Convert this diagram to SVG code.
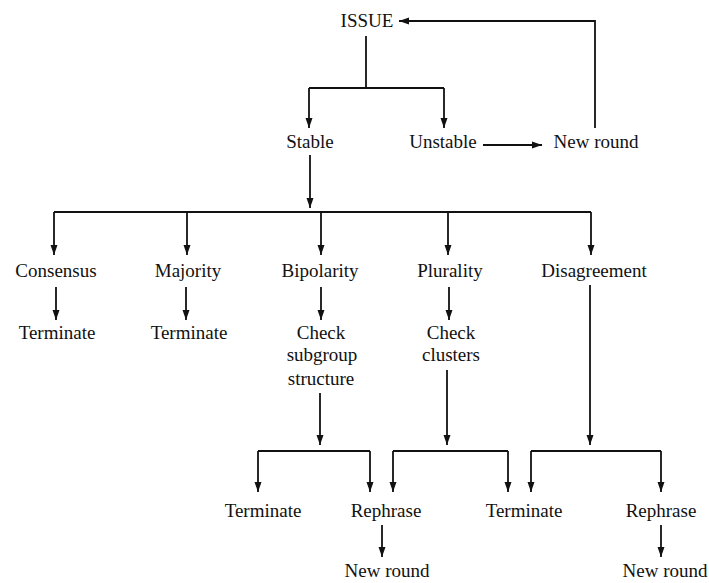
<svg xmlns="http://www.w3.org/2000/svg" width="709" height="583" viewBox="0 0 709 583">
<style>
text{font-family:"Liberation Serif","Times New Roman",serif;font-size:19px;fill:#111;text-anchor:middle}
.c path{fill:none;stroke:#111;stroke-width:1.8}
.a{marker-end:url(#ah)}
</style>
<defs>
<marker id="ah" markerUnits="userSpaceOnUse" markerWidth="10" markerHeight="8" refX="10" refY="4" orient="auto">
<path d="M0,0.5 L10,4 L0,7.5 z" fill="#111"/>
</marker>
</defs>
<rect width="709" height="583" fill="#fff"/>
<g class="c" id="connectors">
<path class="a" d="M595,128 V21 H399"/>
<path d="M366,36 V88 M309,88 H444"/>
<path class="a" d="M309,88 V128"/>
<path class="a" d="M444,88 V128"/>
<path class="a" d="M483,145 H542"/>
<path class="a" d="M310,155 V208"/>
<path d="M54,212 H591"/>
<path class="a" d="M54,212 V255"/>
<path class="a" d="M187,212 V255"/>
<path class="a" d="M321,212 V255"/>
<path class="a" d="M448,212 V255"/>
<path class="a" d="M591,212 V255"/>
<path class="a" d="M56,287 V320"/>
<path class="a" d="M186,287 V320"/>
<path class="a" d="M321,287 V320"/>
<path class="a" d="M449,287 V320"/>
<path class="a" d="M320,393 V445"/>
<path d="M258,451 H370"/>
<path class="a" d="M258,451 V492"/>
<path class="a" d="M370,451 V492"/>
<path class="a" d="M447,370 V445"/>
<path d="M393,451 H508"/>
<path class="a" d="M393,451 V492"/>
<path class="a" d="M508,451 V492"/>
<path class="a" d="M590,285 V445"/>
<path d="M531,451 H661"/>
<path class="a" d="M531,451 V492"/>
<path class="a" d="M661,451 V492"/>
<path class="a" d="M382,525 V557"/>
<path class="a" d="M661,525 V557"/>
</g>
<g id="issue"><text x="367" y="27">ISSUE</text></g>
<g id="stable"><text x="310" y="148">Stable</text></g>
<g id="unstable"><text x="443" y="148">Unstable</text></g>
<g id="newround1"><text x="596" y="148">New round</text></g>
<g id="consensus"><text x="56" y="277">Consensus</text></g>
<g id="majority"><text x="188" y="277">Majority</text></g>
<g id="bipolarity"><text x="320" y="277">Bipolarity</text></g>
<g id="plurality"><text x="450" y="277">Plurality</text></g>
<g id="disagreement"><text x="594" y="277">Disagreement</text></g>
<g id="terminate1"><text x="57" y="339">Terminate</text></g>
<g id="terminate2"><text x="189" y="339">Terminate</text></g>
<g id="checksub"><text x="321" y="339">Check</text><text x="322" y="361">subgroup</text><text x="321" y="385">structure</text></g>
<g id="checkclus"><text x="451" y="339">Check</text><text x="451" y="361">clusters</text></g>
<g id="terminate3"><text x="263" y="517">Terminate</text></g>
<g id="rephrase1"><text x="386" y="517">Rephrase</text></g>
<g id="terminate4"><text x="524" y="517">Terminate</text></g>
<g id="rephrase2"><text x="661" y="517">Rephrase</text></g>
<g id="newround2"><text x="387" y="577">New round</text></g>
<g id="newround3"><text x="665" y="577">New round</text></g>
</svg>
